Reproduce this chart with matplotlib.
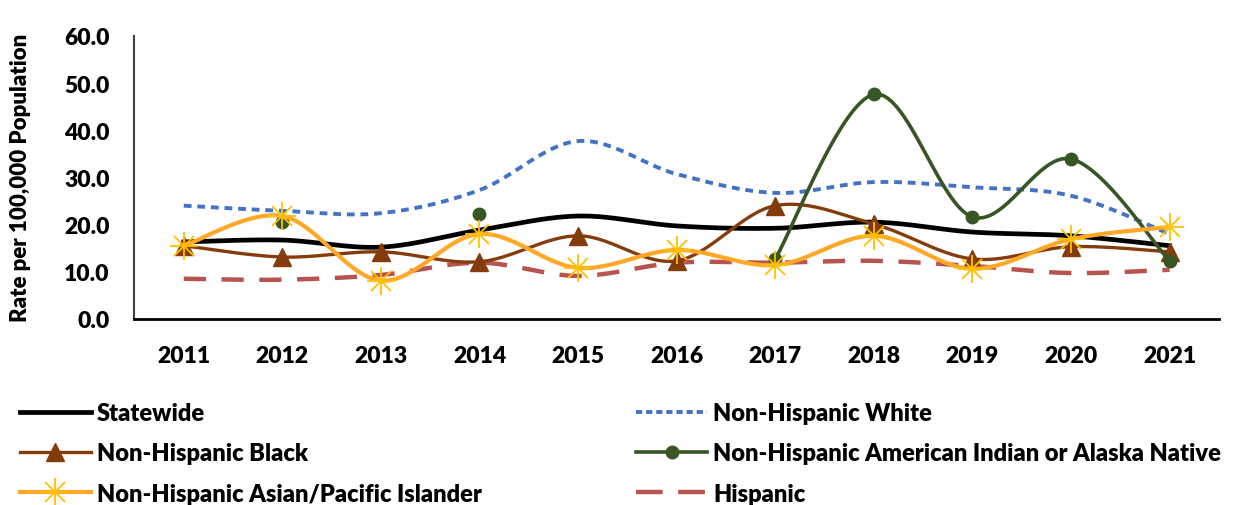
import numpy as np
import matplotlib
matplotlib.use("Agg")
import matplotlib.pyplot as plt
from matplotlib.lines import Line2D

plt.rcParams['font.family'] = ['Lato', 'DejaVu Sans']
plt.rcParams['font.weight'] = 'bold'

years = [2011, 2012, 2013, 2014, 2015, 2016, 2017, 2018, 2019, 2020, 2021]
statewide = [16.3, 16.7, 15.2, 18.8, 21.8, 19.7, 19.2, 20.5, 18.4, 17.6, 15.5]
nh_white = [24.0, 22.9, 22.4, 27.3, 37.7, 30.7, 26.7, 29.0, 27.9, 26.1, 18.0]
nh_black = [15.5, 13.1, 14.2, 12.1, 17.6, 12.3, 24.0, 20.1, 12.7, 15.3, 14.2]
nh_aian = [np.nan, 20.5, np.nan, 22.2, np.nan, np.nan, 12.7, 47.6, 21.6, 33.9, 12.3]
nh_api = [15.5, 21.8, 8.1, 18.0, 10.8, 14.6, 11.4, 17.6, 10.6, 16.9, 19.5]
hispanic = [8.5, 8.3, 9.3, 11.9, 9.1, 11.9, 11.9, 12.3, 11.2, 9.7, 10.4]

c_state = 'black'
c_white = '#4472C4'
c_black = '#843C0C'
c_aian = '#375623'
c_api = '#FFA726'
c_star = '#FFC000'
c_hisp = '#B85450'


def smooth(x, y, n=30):
    # Excel style smoothed line (Catmull-Rom as cubic Bezier)
    x = np.asarray(x, float)
    y = np.asarray(y, float)
    if len(x) < 2:
        return x, y
    px = np.concatenate([[x[0]], x, [x[-1]]])
    py = np.concatenate([[y[0]], y, [y[-1]]])
    xs, ys = [], []
    t = np.linspace(0, 1, n)
    for i in range(1, len(px) - 2):
        p0 = np.array([px[i], py[i]])
        p3 = np.array([px[i + 1], py[i + 1]])
        c1 = p0 + (np.array([px[i + 1], py[i + 1]]) - np.array([px[i - 1], py[i - 1]])) / 6
        c2 = p3 - (np.array([px[i + 2], py[i + 2]]) - np.array([px[i], py[i]])) / 6
        b = ((1 - t) ** 3)[:, None] * p0 + (3 * (1 - t) ** 2 * t)[:, None] * c1 \
            + (3 * (1 - t) * t ** 2)[:, None] * c2 + (t ** 3)[:, None] * p3
        xs.extend(b[:, 0])
        ys.extend(b[:, 1])
    return np.array(xs), np.array(ys)


def draw_smooth(ax, x, y, **kw):
    x = np.asarray(x, float)
    y = np.asarray(y, float)
    run_x, run_y = [], []
    for xi, yi in list(zip(x, y)) + [(np.nan, np.nan)]:
        if np.isnan(yi):
            if len(run_x) >= 2:
                sx, sy = smooth(run_x, run_y)
                ax.plot(sx, sy, **kw)
            run_x, run_y = [], []
        else:
            run_x.append(xi)
            run_y.append(yi)


fig = plt.figure(figsize=(12.45, 5.06), dpi=100)
ax = fig.add_axes([0.108, 0.368, 0.871, 0.559])

draw_smooth(ax, years, hispanic, color=c_hisp, lw=3.2, dashes=(5, 3.5), zorder=2)
draw_smooth(ax, years, nh_white, color=c_white, lw=2.8, dashes=(2.0, 1.5), zorder=2)
draw_smooth(ax, years, statewide, color=c_state, lw=3.4, zorder=3)
draw_smooth(ax, years, nh_black, color=c_black, lw=2.4, zorder=3)
ax.plot(years, nh_black, ls='none', marker='^', ms=13, color=c_black, zorder=4)
draw_smooth(ax, years, nh_aian, color=c_aian, lw=2.6, zorder=4)
ax.plot(years, nh_aian, ls='none', marker='o', ms=9, color=c_aian, zorder=5)
draw_smooth(ax, years, nh_api, color=c_api, lw=3.0, zorder=5)
ax.plot(years, nh_api, ls='none', marker='+', ms=20, mew=1.3, color=c_star, zorder=6)
ax.plot(years, nh_api, ls='none', marker='x', ms=14, mew=1.3, color=c_star, zorder=6)

ax.set_xlim(2010.5, 2021.5)
ax.set_ylim(0, 60)
ax.set_yticks(np.arange(0, 61, 10))
ax.set_yticklabels([f'{v:.1f}' for v in np.arange(0, 61, 10)])
ax.set_xticks(years)
ax.set_xticklabels([str(y) for y in years])
ax.tick_params(axis='both', length=0, labelsize=16.5)
ax.tick_params(axis='y', pad=18)
ax.tick_params(axis='x', pad=19)
for lab in ax.get_xticklabels() + ax.get_yticklabels():
    lab.set_fontweight('heavy')
ax.spines['top'].set_visible(False)
ax.spines['right'].set_visible(False)
ax.spines['left'].set_color('#404040')
ax.spines['left'].set_linewidth(1.5)
ax.spines['bottom'].set_color('black')
ax.spines['bottom'].set_linewidth(2)
ax.set_ylabel('Rate per 100,000 Population', fontsize=16, fontweight='heavy', labelpad=24)

h_state = Line2D([], [], color=c_state, lw=3.4)
h_white = Line2D([], [], color=c_white, lw=2.8, dashes=(1.6, 1.0))
h_black = Line2D([], [], color=c_black, lw=2.4, marker='^', ms=13)
h_aian = Line2D([], [], color=c_aian, lw=2.6, marker='o', ms=9)
h_api_star = (Line2D([], [], color=c_api, lw=3.0),
              Line2D([], [], ls='none', marker='+', ms=20, mew=1.3, color=c_star),
              Line2D([], [], ls='none', marker='x', ms=14, mew=1.3, color=c_star))
h_hisp = Line2D([], [], color=c_hisp, lw=3.2, dashes=(6, 3.5))

leg_kw = dict(frameon=False, handlelength=3.0, handletextpad=0.25, labelspacing=0.78,
              borderpad=0, prop={'size': 17, 'weight': 'heavy'}, borderaxespad=0)
leg1 = fig.legend([h_state, h_black, h_api_star],
                  ['Statewide', 'Non-Hispanic Black', 'Non-Hispanic Asian/Pacific Islander'],
                  loc='upper left', bbox_to_anchor=(0.016, 0.204), **leg_kw)
leg2 = fig.legend([h_white, h_aian, h_hisp],
                  ['Non-Hispanic White', 'Non-Hispanic American Indian or Alaska Native', 'Hispanic'],
                  loc='upper left', bbox_to_anchor=(0.511, 0.204), **leg_kw)

fig.savefig('out.png', dpi=100)
